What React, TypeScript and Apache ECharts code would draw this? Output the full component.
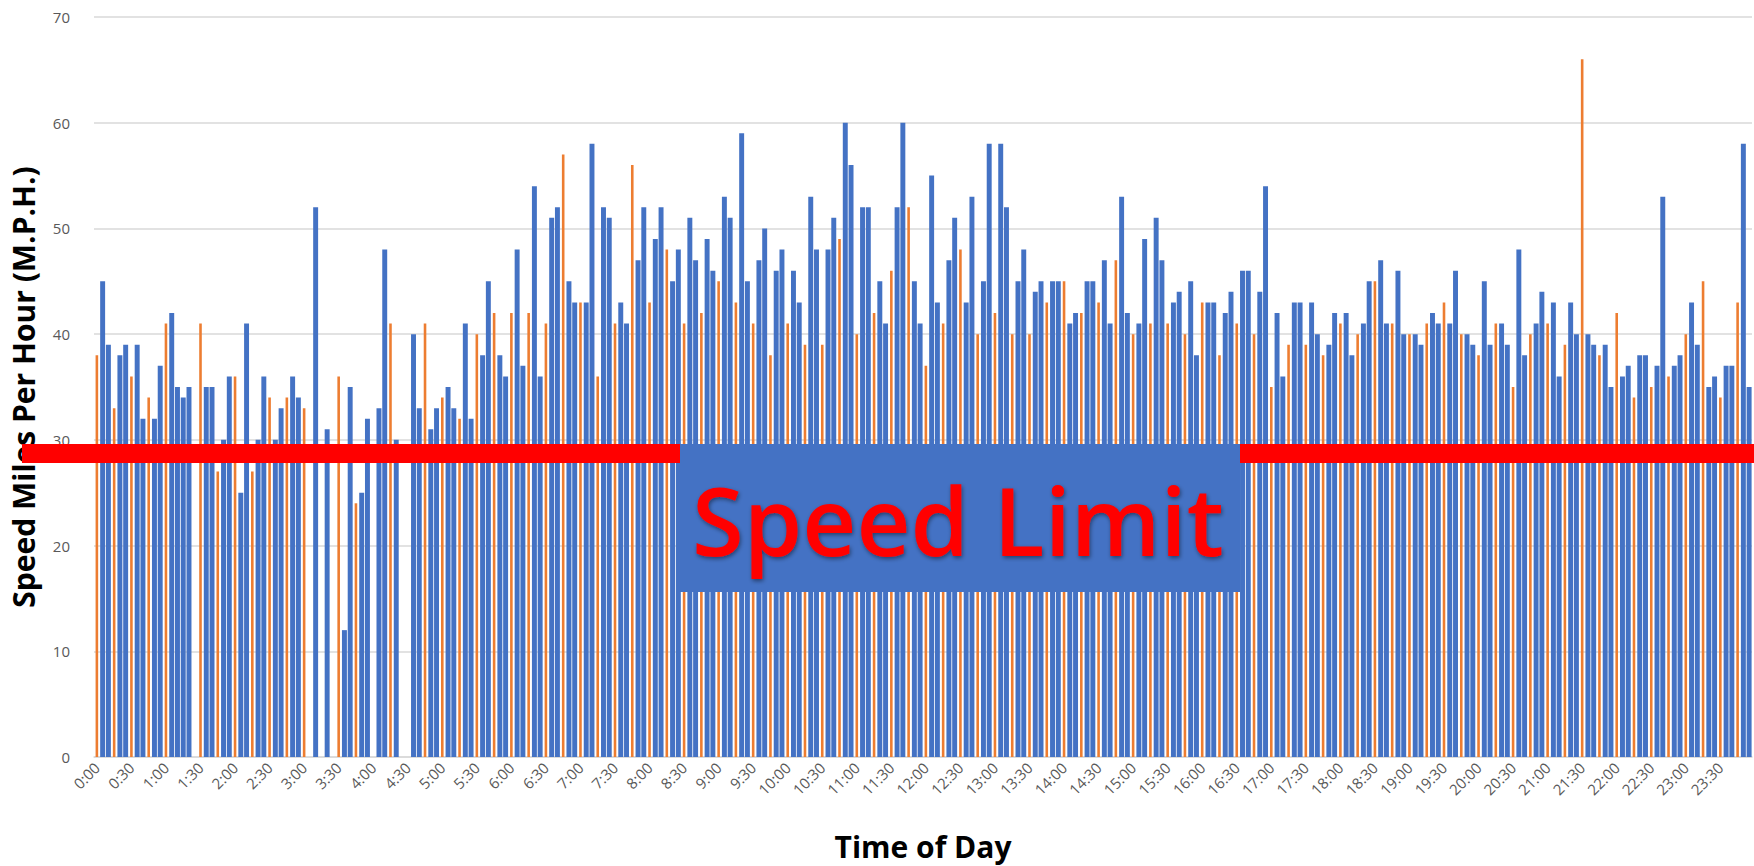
import React, { useEffect, useRef } from "react";
import * as echarts from "echarts";

const N = null;

// 5-minute time slots, 0:00 .. 23:55
const slotLabels: string[] = [];
for (let h = 0; h < 24; h++) {
  for (let m = 0; m < 60; m += 5) slotLabels.push(`${h}:${String(m).padStart(2, "0")}`);
}

// Blue series speeds (M.P.H.), one row per hour (12 five-minute slots)
const blueSpeeds: (number | null)[] = [
  N, 45, 39, N, 38, 39, N, 39, 32, N, 32, 37,
  N, 42, 35, 34, 35, N, N, 35, 35, N, 30, 36,
  N, 25, 41, N, 30, 36, N, 30, 33, N, 36, 34,
  N, N, 52, N, 31, N, N, 12, 35, N, 25, 32,
  N, 33, 48, N, 30, N, N, 40, 33, N, 31, 33,
  N, 35, 33, N, 41, 32, N, 38, 45, N, 38, 36,
  N, 48, 37, N, 54, 36, N, 51, 52, N, 45, 43,
  N, 43, 58, N, 52, 51, N, 43, 41, N, 47, 52,
  N, 49, 52, N, 45, 48, N, 51, 47, N, 49, 46,
  N, 53, 51, N, 59, 45, N, 47, 50, N, 46, 48,
  N, 46, 43, N, 53, 48, N, 48, 51, N, 60, 56,
  N, 52, 52, N, 45, 41, N, 52, 60, N, 45, 41,
  N, 55, 43, N, 47, 51, N, 43, 53, N, 45, 58,
  N, 58, 52, N, 45, 48, N, 44, 45, N, 45, 45,
  N, 41, 42, N, 45, 45, N, 47, 41, N, 53, 42,
  N, 41, 49, N, 51, 47, N, 43, 44, N, 45, 38,
  N, 43, 43, N, 42, 44, N, 46, 46, N, 44, 54,
  N, 42, 36, N, 43, 43, N, 43, 40, N, 39, 42,
  N, 42, 38, N, 41, 45, N, 47, 41, N, 46, 40,
  N, 40, 39, N, 42, 41, N, 41, 46, N, 40, 39,
  N, 45, 39, N, 41, 39, N, 48, 38, N, 41, 44,
  N, 43, 36, N, 43, 40, N, 40, 39, N, 39, 35,
  N, 36, 37, N, 38, 38, N, 37, 53, N, 37, 38,
  N, 43, 39, N, 35, 36, N, 37, 37, N, 58, 35,
];

// Orange series speeds (M.P.H.), one row per hour
const orangeSpeeds: (number | null)[] = [
  38, N, N, 33, N, N, 36, N, N, 34, N, N,
  41, N, N, N, N, N, 41, N, N, 27, N, N,
  36, N, N, 27, N, N, 34, N, N, 34, N, N,
  33, N, N, N, N, N, 36, N, N, 24, N, N,
  N, N, N, 41, N, N, N, N, N, 41, N, N,
  34, N, N, 32, N, N, 40, N, N, 42, N, N,
  42, N, N, 42, N, N, 41, N, N, 57, N, N,
  43, N, N, 36, N, N, 41, N, N, 56, N, N,
  43, N, N, 48, N, N, 41, N, N, 42, N, N,
  45, N, N, 43, N, N, 41, N, N, 38, N, N,
  41, N, N, 39, N, N, 39, N, N, 49, N, N,
  40, N, N, 42, N, N, 46, N, N, 52, N, N,
  37, N, N, 41, N, N, 48, N, N, 40, N, N,
  42, N, N, 40, N, N, 40, N, N, 43, N, N,
  45, N, N, 42, N, N, 43, N, N, 47, N, N,
  40, N, N, 41, N, N, 41, N, N, 40, N, N,
  43, N, N, 38, N, N, 41, N, N, 40, N, N,
  35, N, N, 39, N, N, 39, N, N, 38, N, N,
  41, N, N, 40, N, N, 45, N, N, 41, N, N,
  40, N, N, 41, N, N, 43, N, N, 40, N, N,
  38, N, N, 41, N, N, 35, N, N, 40, N, N,
  41, N, N, 39, N, N, 66, N, N, 38, N, N,
  42, N, N, 34, N, N, 35, N, N, 36, N, N,
  40, N, N, 45, N, N, 34, N, N, 43, N, N,
];

const Y_MIN = 0;
const Y_MAX = 70;
const Y_INTERVAL = 10;
const SPEED_LIMIT_LINE = 28.7;
const BANNER_TEXT = "Speed Limit";

export default function App() {
  const ref = useRef<HTMLDivElement>(null);

  useEffect(() => {
    const chart = echarts.init(ref.current!, null, { renderer: "svg" });
    chart.setOption({
      animation: false,
      backgroundColor: "#ffffff",
      grid: { left: 88, right: 2, top: 17, bottom: 106, containLabel: false },
      xAxis: [
        {
          type: "category",
          data: slotLabels,
          boundaryGap: true,
          axisLine: { lineStyle: { color: "#d9d9d9", width: 1.5 } },
          axisTick: { show: false },
          axisLabel: {
            interval: 5,
            rotate: 45,
            color: "#595959",
            fontSize: 15,
            fontFamily: "Open Sans",
            margin: 8,
          },
          name: "Time of Day",
          nameLocation: "middle",
          nameGap: 74,
          nameTextStyle: {
            fontSize: 30,
            fontWeight: "bold",
            color: "#000000",
            fontFamily: "Open Sans",
          },
        },
        { type: "category", data: slotLabels, show: false },
      ],
      yAxis: {
        type: "value",
        min: Y_MIN,
        max: Y_MAX,
        interval: Y_INTERVAL,
        axisLine: { show: false },
        axisTick: { show: false },
        splitLine: { lineStyle: { color: "#d9d9d9", width: 1.5 } },
        axisLabel: { color: "#595959", fontSize: 15, fontFamily: "Open Sans", margin: 24 },
        name: "Speed Miles Per Hour (M.P.H.)",
        nameLocation: "middle",
        nameGap: 56,
        nameRotate: 90,
        nameTextStyle: {
          fontSize: 30,
          fontWeight: "bold",
          color: "#000000",
          fontFamily: "Open Sans",
        },
      },
      series: [
        {
          type: "bar",
          name: "Blue",
          xAxisIndex: 0,
          data: blueSpeeds,
          barCategoryGap: "14%",
          itemStyle: { color: "#4472C4" },
        },
        {
          type: "bar",
          name: "Orange",
          xAxisIndex: 1,
          data: orangeSpeeds,
          barWidth: "45%",
          itemStyle: { color: "#ED7D31" },
        },
      ],
    });

    const yLine = chart.convertToPixel({ yAxisIndex: 0 }, SPEED_LIMIT_LINE) as number;
    const lineH = 19;
    const boxTop = yLine - lineH / 2;
    chart.setOption({
      graphic: [
        {
          type: "rect",
          z: 100,
          shape: { x: 22, y: boxTop, width: 1754 - 22, height: lineH },
          style: { fill: "#FF0000" },
        },
        {
          type: "rect",
          z: 101,
          shape: { x: 680, y: boxTop, width: 560, height: 148 },
          style: { fill: "#4472C4" },
        },
        {
          type: "text",
          z: 102,
          x: 958,
          y: boxTop + 76,
          style: {
            text: BANNER_TEXT,
            fill: "#FF0000",
            font: "600 94px 'Open Sans'",
            align: "center",
            verticalAlign: "middle",
            textShadowColor: "rgba(0,0,0,0.45)",
            textShadowBlur: 4,
            textShadowOffsetX: 1,
            textShadowOffsetY: 2,
          },
        },
      ],
    });

    return () => chart.dispose();
  }, []);

  return (
    <div
      ref={ref}
      style={{ position: "fixed", left: 0, top: 0, width: 1754, height: 866 }}
    />
  );
}
